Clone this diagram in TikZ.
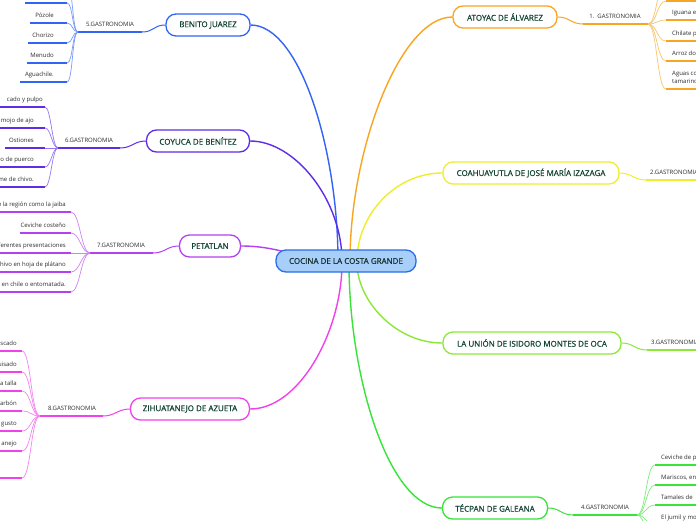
\documentclass[tikz,border=0pt]{standalone}
\usepackage{fontspec}
\setmainfont{Open Sans}
\newfontfamily\boxfont[FakeBold=0.7]{Open Sans}
\usetikzlibrary{backgrounds}
\definecolor{cB}{RGB}{50,100,245}
\definecolor{cP}{RGB}{95,45,230}
\definecolor{cV}{RGB}{180,65,240}
\definecolor{cM}{RGB}{240,65,235}
\definecolor{cO}{RGB}{248,165,35}
\definecolor{cY}{RGB}{238,238,45}
\definecolor{cL}{RGB}{140,232,55}
\definecolor{cG}{RGB}{55,228,55}
\definecolor{tgreen}{RGB}{18,68,50}
\definecolor{tgray}{RGB}{45,45,45}
\definecolor{rootfill}{RGB}{168,206,250}
\definecolor{rootdraw}{RGB}{40,110,230}
\definecolor{roottext}{RGB}{22,50,45}
\tikzset{
  box/.style={draw, fill=white, rounded corners=10pt, line width=1.3pt, minimum height=22pt, inner sep=0pt, text=tgreen, font=\boxfont\fontsize{8}{9.6}\selectfont},
  conn/.style={line width=1.4pt},
  subconn/.style={line width=1pt},
  fanl/.style={line width=0.7pt},
  uline/.style={line width=2pt},
  leaf/.style={inner sep=0pt, text=tgray, font=\fontsize{6}{7.2}\selectfont}
}
\begin{document}
\begin{tikzpicture}[x=1pt,y=-1pt]
\useasboundingbox (0,0) rectangle (696,520);
\clip (0,0) rectangle (696,520);
\begin{scope}[on background layer]
  \fill[white] (0,0) rectangle (696,520);
\end{scope}

% ---------- boxes ----------
\node[box, draw=cB, minimum width=84pt] (b1) at (208,25) {BENITO JUAREZ};
\node[box, draw=cP, minimum width=103pt] (b2) at (198,141) {COYUCA DE BENÍTEZ};
\node[box, draw=cV, minimum width=61pt] (b3) at (210,246) {PETATLAN};
\node[box, draw=cM, minimum width=119pt] (b4) at (190,409) {ZIHUATANEJO DE AZUETA};
\node[box, draw=cO, minimum width=104pt] (b5) at (505,17) {ATOYAC DE ÁLVAREZ};
\node[box, draw=cY, minimum width=176pt] (b6) at (531,173) {COAHUAYUTLA DE JOSÉ MARÍA IZAZAGA};
\node[box, draw=cL, minimum width=178pt] (b7) at (532,343) {LA UNIÓN DE ISIDORO MONTES DE OCA};
\node[box, draw=cG, minimum width=105pt] (b8) at (495,508) {TÉCPAN DE GALEANA};
\node[box, draw=rootdraw, fill=rootfill, text=roottext, minimum width=140pt] (root) at (346,261) {COCINA DE LA COSTA GRANDE};

% ---------- root anchor points ----------
\coordinate (rB) at (338,261);
\coordinate (rP) at (342,261);
\coordinate (rV) at (320,261);
\coordinate (rM) at (342,263);
\coordinate (rO) at (350,261);
\coordinate (rY) at (357,261);
\coordinate (rL) at (357,263);
\coordinate (rG) at (349,263);

% ---------- gastronomy underlines ----------
\coordinate (g1w) at (78,32);   \coordinate (g1e) at (142,32);
\coordinate (g2w) at (58,148);  \coordinate (g2e) at (120,148);
\coordinate (g3w) at (90,253);  \coordinate (g3e) at (153,253);
\coordinate (g4w) at (40,416);  \coordinate (g4e) at (103,416);
\coordinate (g5w) at (583,24);  \coordinate (g5e) at (648,24);
\coordinate (g6w) at (646,180); \coordinate (g6e) at (710,180);
\coordinate (g7w) at (647,350); \coordinate (g7e) at (710,350);
\coordinate (g8w) at (573,515); \coordinate (g8e) at (637,515);

\node[leaf, anchor=base] (g1t) at (110,26.5) {5.GASTRONOMIA};
\node[leaf, anchor=base] (g2t) at (89,142.5) {6.GASTRONOMIA};
\node[leaf, anchor=base] (g3t) at (121,247.5) {7.GASTRONOMIA};
\node[leaf, anchor=base] (g4t) at (72,410.5) {8.GASTRONOMIA};
\node[leaf, anchor=base] (g5t) at (615,18.5) {1.~~GASTRONOMIA};
\node[leaf, anchor=base west] (g6t) at (650,174.5) {2.GASTRONOMIA};
\node[leaf, anchor=base west] (g7t) at (651,344.5) {3.GASTRONOMIA};
\node[leaf, anchor=base] (g8t) at (605,509.5) {4.GASTRONOMIA};

% ---------- leaf texts ----------
% Benito Juarez
\foreach \n/\y/\t in {2/23/Pózole, 3/43/Chorizo, 4/63/Menudo, 5/82/Aguachile.}
  \node[leaf, anchor=base east] (l1-\n t) at (54,\y-5.5) {\t};
% Coyuca
\node[leaf, anchor=base east] (l2-1t) at (43,101.5) {cado y pulpo};
\foreach \n/\y/\t in {2/128/mojo de ajo, 3/148/Ostiones, 4/167/o de puerco, 5/187/me de chivo.}
  \node[leaf, anchor=base east] (l2-\n t) at (34,\y-5.5) {\t};
% Petatlan
\foreach \n/\y/\t in {1/212/e la región como la jaiba, 2/233/Ceviche costeño, 3/253/ferentes presentaciones, 4/272/chivo en hoja de plátano, 5/292/a en chile o entomatada.}
  \node[leaf, anchor=base east] (l3-\n t) at (66,\y-5.5) {\t};
% Zihuatanejo
\foreach \n/\y/\t in {1/351/scado, 2/372/uisado, 3/391/a talla, 4/411/arbón, 5/431/gusto, 6/451/anejo}
  \node[leaf, anchor=base east] (l4-\n t) at (17,\y-5.5) {\t};
% Atoyac
\foreach \n/\y/\t in {2/20/Iguana e, 3/41/Chilate p, 4/61/Arroz do, 5/89/tamarino}
  \node[leaf, anchor=base west] (l5-\n t) at (672,\y-5.5) {\t};
\node[leaf, anchor=base west] (l5-5u) at (672,75) {Aguas co};
% Tecpan
\foreach \n/\y/\t in {1/465/Ceviche de p, 2/485/{Mariscos, en}, 3/505/Tamales de, 4/525/El jumil y mo}
  \node[leaf, anchor=base west] (l8-\n t) at (661,\y-5.5) {\t};

% ---------- connectors (behind boxes) ----------
\begin{scope}[on background layer]
\clip (0,0) rectangle (696,520);
% main branches
\draw[conn, cB] (b1.east) .. controls (300,25) and (338,150) .. (rB);
\draw[conn, cP] (b2.east) .. controls (295,141) and (342,200) .. (rP);
\draw[conn, cV] (b3.east) .. controls (275,246) and (295,256) .. (rV);
\draw[conn, cM] (b4.east) .. controls (300,409) and (342,330) .. (rM);
\draw[conn, cO] (b5.west) .. controls (400,17) and (350,150) .. (rO);
\draw[conn, cY] (b6.west) .. controls (395,173) and (357,215) .. (rY);
\draw[conn, cL] (b7.west) .. controls (395,343) and (357,300) .. (rL);
\draw[conn, cG] (b8.west) .. controls (390,508) and (349,380) .. (rG);
% box to gastronomy
\draw[subconn, cB] (b1.west) .. controls +(-12,0) and +(12,0) .. (g1e);
\draw[subconn, cP] (b2.west) .. controls +(-12,0) and +(12,0) .. (g2e);
\draw[subconn, cV] (b3.west) .. controls +(-12,0) and +(12,0) .. (g3e);
\draw[subconn, cM] (b4.west) .. controls +(-12,0) and +(12,0) .. (g4e);
\draw[subconn, cO] (b5.east) .. controls +(12,0) and +(-12,0) .. (g5w);
\draw[subconn, cY] (b6.east) .. controls +(12,0) and +(-12,0) .. (g6w);
\draw[subconn, cL] (b7.east) .. controls +(12,0) and +(-12,0) .. (g7w);
\draw[subconn, cG] (b8.east) .. controls +(12,0) and +(-12,0) .. (g8w);
% gastronomy underlines
\draw[uline, cB] (g1w) -- (g1e);
\draw[uline, cP] (g2w) -- (g2e);
\draw[uline, cV] (g3w) -- (g3e);
\draw[uline, cM] (g4w) -- (g4e);
\draw[uline, cO] (g5w) -- (g5e);
\draw[uline, cY] (g6w) -- (g6e);
\draw[uline, cL] (g7w) -- (g7e);
\draw[uline, cG] (g8w) -- (g8e);
% leaves: Benito
\foreach \n/\y/\xs in {0/-17/25, 1/3/25, 2/23/30, 3/43/28, 4/63/27, 5/82/20} {
  \coordinate (l1-\n s) at (\xs,\y); \coordinate (l1-\n e) at (67,\y);
  \draw[uline, cB] (l1-\n s) -- (l1-\n e);
  \draw[fanl, cB!65] (g1w) .. controls +(-6,0) and +(6,0) .. (l1-\n e);
}
% leaves: Coyuca
\foreach \n/\y/\xs in {1/107/-5, 2/128/-5, 3/148/5, 4/167/-5, 5/187/-5} {
  \coordinate (l2-\n s) at (\xs,\y); \coordinate (l2-\n e) at (45,\y);
  \draw[uline, cP] (l2-\n s) -- (l2-\n e);
  \draw[fanl, cP!65] (g2w) .. controls +(-6,0) and +(6,0) .. (l2-\n e);
}
% leaves: Petatlan
\foreach \n/\y/\xs in {1/212/-5, 2/233/20, 3/253/-5, 4/272/-5, 5/292/-5} {
  \coordinate (l3-\n s) at (\xs,\y); \coordinate (l3-\n e) at (71,\y);
  \draw[uline, cV] (l3-\n s) -- (l3-\n e);
  \draw[fanl, cV!65] (g3w) .. controls +(-9,0) and +(9,0) .. (l3-\n e);
}
% leaves: Zihuatanejo
\foreach \n/\y in {1/351, 2/372, 3/391, 4/411, 5/431, 6/451, 7/478} {
  \coordinate (l4-\n s) at (-10,\y); \coordinate (l4-\n e) at (22,\y);
  \draw[uline, cM] (l4-\n s) -- (l4-\n e);
  \draw[fanl, cM!65] (g4w) .. controls +(-9,0) and +(9,0) .. (l4-\n e);
}
% leaves: Atoyac
\foreach \n/\y in {0/-19, 1/1, 2/20, 3/41, 4/61, 5/89} {
  \coordinate (l5-\n s) at (666,\y); \coordinate (l5-\n e) at (705,\y);
  \draw[uline, cO] (l5-\n s) -- (l5-\n e);
  \draw[fanl, cO!65] (g5e) .. controls +(9,0) and +(-9,0) .. (l5-\n s);
}
% leaves: Tecpan
\foreach \n/\y in {1/465, 2/485, 3/505, 4/525, 5/545} {
  \coordinate (l8-\n s) at (655,\y); \coordinate (l8-\n e) at (705,\y);
  \draw[uline, cG] (l8-\n s) -- (l8-\n e);
  \draw[fanl, cG!65] (g8e) .. controls +(9,0) and +(-9,0) .. (l8-\n s);
}
\end{scope}
\end{tikzpicture}
\end{document}
